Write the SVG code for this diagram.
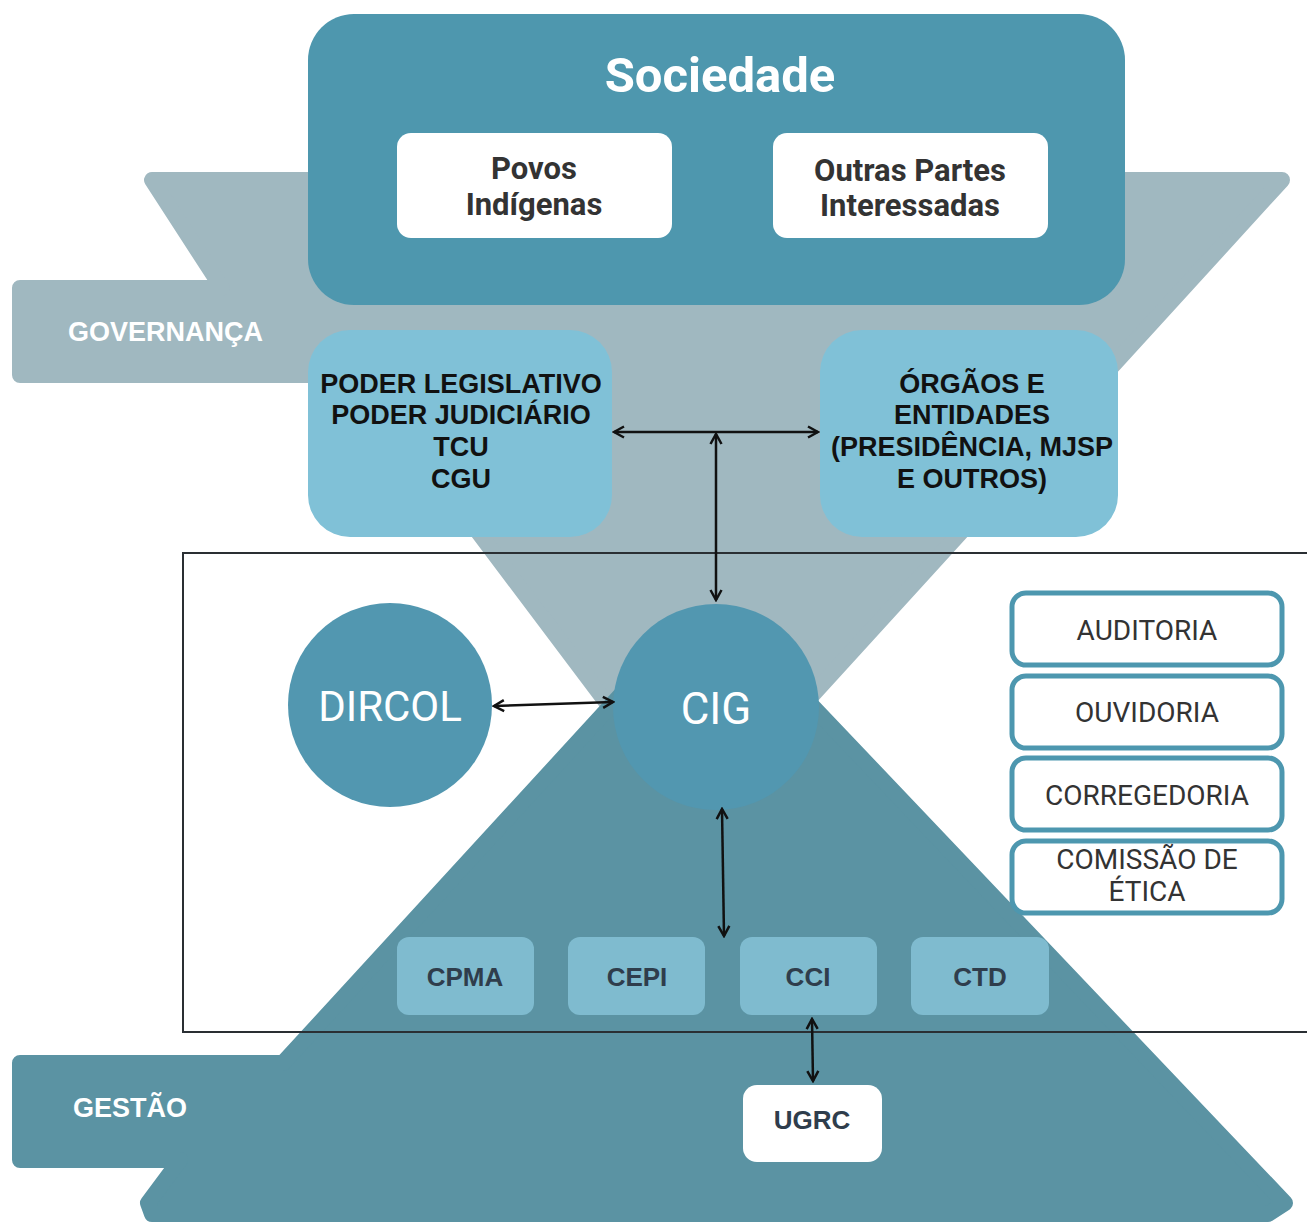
<svg xmlns="http://www.w3.org/2000/svg" width="1307" height="1223" viewBox="0 0 1307 1223">
<defs>
<style>
.band-gov{fill:#a0b8c0;stroke:#a0b8c0;stroke-width:16;stroke-linejoin:round}
.band-ges{fill:#5b93a3;stroke:#5b93a3;stroke-width:16;stroke-linejoin:round}
.soc{fill:#4e97ae}
.white{fill:#ffffff}
.light{fill:#80c1d7}
.comm{fill:#7fbbcf}
.circ{fill:#5297b0}
.side{fill:#ffffff;stroke:#4d97af;stroke-width:5}
.t-soc{font-family:Roboto,"Liberation Sans",sans-serif;font-weight:bold;fill:#ffffff;text-anchor:middle}
.t-box{font-family:Roboto,"Liberation Sans",sans-serif;font-weight:bold;fill:#333333;text-anchor:middle;font-size:31px}
.t-band{font-family:"Liberation Sans",Arial,sans-serif;font-weight:bold;fill:#ffffff;font-size:27px}
.t-pow{font-family:"Liberation Sans",Arial,sans-serif;font-weight:bold;fill:#111111;text-anchor:middle;font-size:27px}
.t-circ{font-family:Roboto,"Liberation Sans",sans-serif;fill:#ffffff;text-anchor:middle}
.t-side{font-family:Roboto,"Liberation Sans",sans-serif;fill:#333333;text-anchor:middle;font-size:28px}
.t-comm{font-family:"Liberation Sans",Arial,sans-serif;font-weight:bold;fill:#2f3d4c;text-anchor:middle;font-size:26px}
.conn{stroke:#111111;stroke-width:2.5;fill:none;marker-start:url(#ah);marker-end:url(#ah)}
</style>
<marker id="ah" viewBox="0 0 14 14" refX="12" refY="7" markerWidth="14" markerHeight="14" markerUnits="userSpaceOnUse" orient="auto-start-reverse">
<path d="M2,1.5 L12,7 L2,12.5" fill="none" stroke="#111111" stroke-width="2.5" stroke-linejoin="miter"/>
</marker>
</defs>

<g id="governanca-band">
<path class="band-gov" d="M152,180 L1282,180 L806,702 L606,702 L360,375 L20,375 L20,288 L222,288 Z"/>
<text class="t-band" x="68" y="341">GOVERNANÇA</text>
</g>

<g id="gestao-band">
<path class="band-ges" d="M662,650 L759,650 L1285,1203 L1268,1214 L152,1214 L148,1203 L180,1160 L20,1160 L20,1063 L283,1063 Z"/>
<text class="t-band" x="73" y="1117">GESTÃO</text>
</g>

<g id="frame">
<path d="M1310,553 L183,553 L183,1032 L1310,1032" fill="none" stroke="#2a2f33" stroke-width="2"/>
</g>

<g id="sociedade">
<rect class="soc" x="308" y="14" width="817" height="291" rx="46"/>
<text class="t-soc" x="720" y="92" font-size="49">Sociedade</text>
</g>

<g id="povos-indigenas">
<rect class="white" x="397" y="133" width="275" height="105" rx="14"/>
<text class="t-box" x="534" y="179">Povos</text>
<text class="t-box" x="534" y="215">Indígenas</text>
</g>

<g id="outras-partes">
<rect class="white" x="773" y="133" width="275" height="105" rx="14"/>
<text class="t-box" x="910" y="181">Outras Partes</text>
<text class="t-box" x="910" y="216">Interessadas</text>
</g>

<g id="poderes">
<rect class="light" x="308" y="330" width="304" height="207" rx="42"/>
<text class="t-pow" x="461" y="393">PODER LEGISLATIVO</text>
<text class="t-pow" x="461" y="424">PODER JUDICIÁRIO</text>
<text class="t-pow" x="461" y="456">TCU</text>
<text class="t-pow" x="461" y="488">CGU</text>
</g>

<g id="orgaos">
<rect class="light" x="820" y="330" width="298" height="207" rx="42"/>
<text class="t-pow" x="972" y="393">ÓRGÃOS E</text>
<text class="t-pow" x="972" y="424">ENTIDADES</text>
<text class="t-pow" x="972" y="456">(PRESIDÊNCIA, MJSP</text>
<text class="t-pow" x="972" y="488">E OUTROS)</text>
</g>

<g id="dircol">
<circle class="circ" cx="390" cy="705" r="102"/>
<text class="t-circ" x="390" y="721" font-size="42">DIRCOL</text>
</g>

<g id="cig">
<circle class="circ" cx="716" cy="707" r="103"/>
<text class="t-circ" x="716" y="724" font-size="44">CIG</text>
</g>

<g id="auditoria">
<rect class="side" x="1012" y="593" width="270" height="72" rx="14"/>
<text class="t-side" x="1147" y="640">AUDITORIA</text>
</g>
<g id="ouvidoria">
<rect class="side" x="1012" y="676" width="270" height="72" rx="14"/>
<text class="t-side" x="1147" y="722">OUVIDORIA</text>
</g>
<g id="corregedoria">
<rect class="side" x="1012" y="758" width="270" height="72" rx="14"/>
<text class="t-side" x="1147" y="805">CORREGEDORIA</text>
</g>
<g id="comissao-etica">
<rect class="side" x="1012" y="841" width="270" height="72" rx="14"/>
<text class="t-side" x="1147" y="869">COMISSÃO DE</text>
<text class="t-side" x="1147" y="901">ÉTICA</text>
</g>

<g id="cpma">
<rect class="comm" x="397" y="937" width="137" height="78" rx="12"/>
<text class="t-comm" x="465" y="986">CPMA</text>
</g>
<g id="cepi">
<rect class="comm" x="568" y="937" width="137" height="78" rx="12"/>
<text class="t-comm" x="637" y="986">CEPI</text>
</g>
<g id="cci">
<rect class="comm" x="740" y="937" width="137" height="78" rx="12"/>
<text class="t-comm" x="808" y="986">CCI</text>
</g>
<g id="ctd">
<rect class="comm" x="911" y="937" width="138" height="78" rx="12"/>
<text class="t-comm" x="980" y="986">CTD</text>
</g>

<g id="ugrc">
<rect class="white" x="743" y="1085" width="139" height="77" rx="14"/>
<text class="t-comm" x="812" y="1129" font-size="21">UGRC</text>
</g>

<g id="connectors">
<line class="conn" x1="614" y1="432" x2="818" y2="432"/>
<path d="M716,434 L716,600" class="conn"/>
<line class="conn" x1="494" y1="706" x2="613" y2="702"/>
<line class="conn" x1="722" y1="809" x2="724" y2="936"/>
<line class="conn" x1="812" y1="1019" x2="813" y2="1081"/>
</g>
</svg>
